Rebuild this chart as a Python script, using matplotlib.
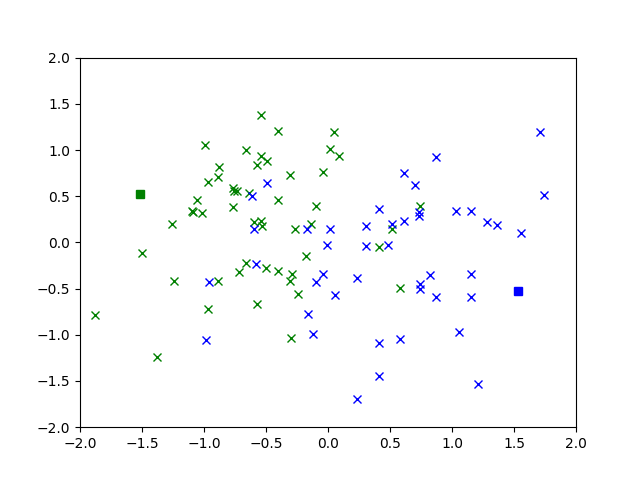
import matplotlib
matplotlib.use("Agg")
import matplotlib.pyplot as plt

green_x = [-1.88, -1.50, -1.38, -1.26, -1.24, -1.10, -1.09, -1.06, -1.02, -0.99,
           -0.97, -0.97, -0.89, -0.88, -0.89, -0.77, -0.76, -0.73, -0.77, -0.72,
           -0.66, -0.66, -0.64, -0.60, -0.54, -0.53, -0.57, -0.54, -0.54, -0.49,
           -0.57, -0.50, -0.40, -0.40, -0.40, -0.31, -0.29, -0.31, -0.30, -0.27,
           -0.24, -0.18, -0.14, -0.10, -0.04, 0.02, 0.05, 0.09, 0.41, 0.52,
           0.58, 0.74]
green_y = [-0.79, -0.11, -1.24, 0.20, -0.42, 0.34, 0.33, 0.46, 0.32, 1.05,
           0.65, -0.72, 0.71, 0.82, -0.42, 0.59, 0.56, 0.56, 0.38, -0.32,
           -0.22, 1.00, 0.54, 0.22, 0.23, 0.18, -0.67, 1.38, 0.93, 0.88,
           0.84, -0.28, 1.21, 0.46, -0.31, 0.73, -0.34, -0.42, -1.04, 0.14,
           -0.56, -0.15, 0.20, 0.39, 0.76, 1.01, 1.20, 0.93, -0.05, 0.15,
           -0.49, 0.39]

blue_x = [-0.96, -0.98, -0.61, -0.60, -0.58, -0.49, -0.17, -0.16, -0.12, -0.10,
          -0.04, -0.01, 0.02, 0.06, 0.23, 0.23, 0.31, 0.31, 0.41, 0.41,
          0.41, 0.48, 0.52, 0.58, 0.61, 0.61, 0.70, 0.73, 0.73, 0.74,
          0.74, 0.82, 0.87, 0.87, 1.03, 1.06, 1.15, 1.15, 1.15, 1.21,
          1.28, 1.36, 1.56, 1.71, 1.74]
blue_y = [-0.43, -1.06, 0.50, 0.15, -0.23, 0.64, 0.14, -0.77, -0.99, -0.43,
          -0.34, -0.03, 0.14, -0.57, -0.39, -1.69, 0.18, -0.04, 0.36, -1.09,
          -1.45, -0.03, 0.20, -1.05, 0.75, 0.23, 0.62, 0.33, 0.29, -0.45,
          -0.50, -0.35, 0.92, -0.59, 0.34, -0.97, 0.34, -0.34, -0.59, -1.53,
          0.22, 0.19, 0.10, 1.20, 0.51]

center_green = (-1.52, 0.52)
center_blue = (1.53, -0.53)

fig, ax = plt.subplots(figsize=(6.4, 4.8), dpi=100)
ax.plot(green_x, green_y, 'gx')
ax.plot(blue_x, blue_y, 'bx')
ax.plot([center_green[0]], [center_green[1]], 'gs')
ax.plot([center_blue[0]], [center_blue[1]], 'bs')
ax.set_xlim(-2, 2)
ax.set_ylim(-2, 2)
fig.savefig("out.png")
